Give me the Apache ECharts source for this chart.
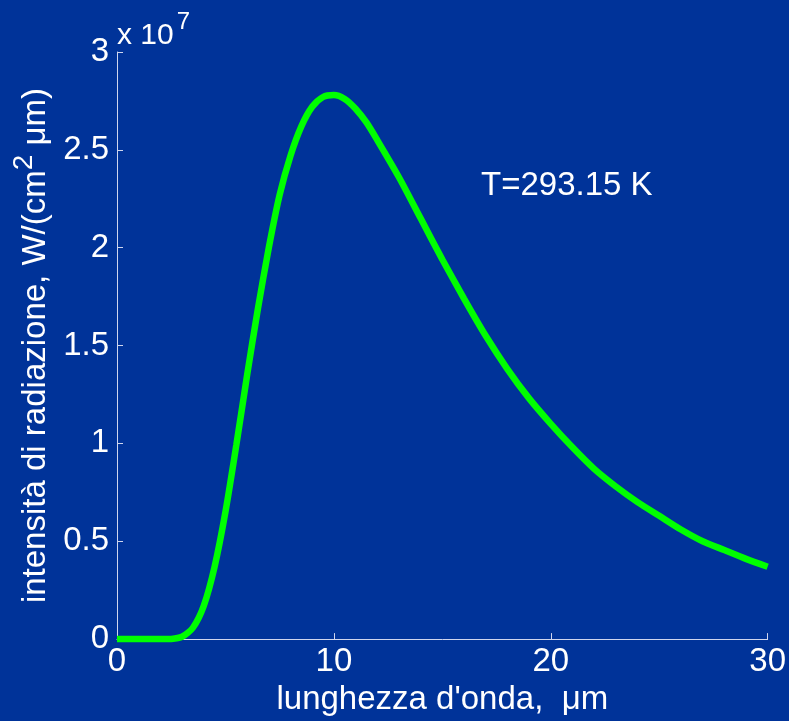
<!DOCTYPE html>
<html>
<head>
<meta charset="utf-8">
<script src="https://cdn.jsdelivr.net/npm/echarts@6/dist/echarts.min.js"></script>
<style>
  html, body { margin: 0; padding: 0; background: #003399; }
  #chart { width: 789px; height: 721px; }
</style>
</head>
<body>
<div id="chart"></div>
<script>
// wavelength in micrometres
const wavelength = [0, 0.5, 1, 1.5, 2, 2.5, 3, 3.5, 4, 4.5, 5, 5.5, 6, 6.5, 7, 7.5, 8, 8.5, 9, 9.5,
  10, 10.5, 11, 11.5, 12, 13, 14, 15, 16, 17, 18, 19, 20, 21, 22, 23, 24, 25, 26, 27, 28, 29, 30];
// radiation intensity, in units of 10^7 W/(cm^2 um)
const intensity = [0, 0, 0, 0, 0, 0.001, 0.012, 0.058, 0.17, 0.37, 0.65, 0.99, 1.35, 1.69, 2.0, 2.27, 2.47, 2.62, 2.72, 2.77,
  2.78, 2.76, 2.71, 2.64, 2.55, 2.36, 2.15, 1.94, 1.74, 1.55, 1.38, 1.23, 1.1, 0.98, 0.87, 0.78, 0.7, 0.63, 0.56, 0.5, 0.455, 0.41, 0.37];
const xTicks = [0, 10, 20, 30];
const yTicks = [0, 0.5, 1, 1.5, 2, 2.5, 3];

const chart = echarts.init(document.getElementById('chart'));
const font = 'Liberation Sans, Arial, sans-serif';
const axisColor = '#d0d6ee';

const option = {
  backgroundColor: '#003399',
  animation: false,
  grid: { left: 117, right: 20, top: 52, bottom: 78 },
  xAxis: {
    type: 'value',
    min: xTicks[0],
    max: xTicks[xTicks.length - 1],
    interval: 10,
    name: "lunghezza d'onda,  μm",
    nameLocation: 'middle',
    nameGap: 42,
    nameTextStyle: { color: '#ffffff', fontSize: 33, fontFamily: font },
    axisLine: { show: true, onZero: false, lineStyle: { color: axisColor, width: 1 } },
    axisTick: { show: true, inside: true, length: 6, lineStyle: { color: axisColor } },
    axisLabel: { color: '#ffffff', fontSize: 33, fontFamily: font, margin: 6 },
    splitLine: { show: false }
  },
  yAxis: {
    type: 'value',
    min: yTicks[0],
    max: yTicks[yTicks.length - 1],
    interval: 0.5,
    name: 'intensità di radiazione, W/(cm{sup|2} μm)',
    nameLocation: 'middle',
    nameGap: 56,
    nameTextStyle: {
      color: '#ffffff', fontSize: 33, fontFamily: font,
      rich: {
        sup: { color: '#ffffff', fontSize: 28, fontFamily: font, padding: [0, 0, 22, 0] }
      }
    },
    axisLine: { show: true, lineStyle: { color: axisColor, width: 1 } },
    axisTick: { show: true, inside: true, length: 6, lineStyle: { color: axisColor } },
    axisLabel: { color: '#ffffff', fontSize: 33, fontFamily: font, margin: 8 },
    splitLine: { show: false }
  },
  graphic: [
    {
      type: 'text',
      left: 117,
      top: 10,
      style: {
        text: '{b|x 10}{s|7}',
        rich: {
          b: { fill: '#ffffff', fontSize: 30, fontFamily: font, padding: [14, 0, 0, 0] },
          s: { fill: '#ffffff', fontSize: 24, fontFamily: font, padding: [0, 0, 14, 3] }
        }
      }
    },
    {
      type: 'text',
      left: 481,
      top: 169,
      style: { text: 'T=293.15 K', fill: '#ffffff', fontSize: 33, fontFamily: font }
    }
  ],
  series: [
    {
      type: 'line',
      data: wavelength.map((w, i) => [w, intensity[i]]),
      symbol: 'none',
      smooth: 0.25,
      clip: false,
      lineStyle: { color: '#00ff00', width: 6.5 }
    }
  ]
};

chart.setOption(option);
</script>
</body>
</html>
